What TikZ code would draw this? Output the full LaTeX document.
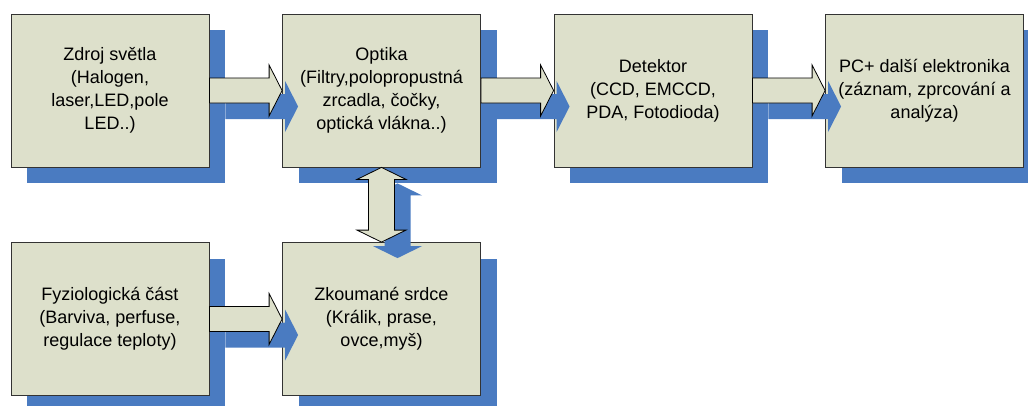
\documentclass[tikz,border=0pt]{standalone}
\usepackage{fontspec}
\setmainfont{Liberation Sans}
\usetikzlibrary{calc,shadows}
\definecolor{vypln}{RGB}{221,224,203}
\definecolor{stin}{RGB}{74,123,193}

\begin{document}
\begin{tikzpicture}[x=1pt,y=1pt,node distance=271.5pt,font=\fontsize{18}{23}\selectfont,
	stinuj/.style={drop shadow={shadow xshift=16pt,shadow yshift=-16pt,fill=stin,opacity=1}},
	blok/.style={rectangle,draw=black!80,line width=0.8pt,fill=vypln,minimum width=198pt,minimum height=153pt,inner sep=0pt,align=center,stinuj},
	sipka/.style={draw=black,line width=0.8pt,fill=vypln,line join=miter,stinuj}]
	\useasboundingbox (0,0) rectangle (1028,-405);

	\node[blok] (zdroj) at (110,-90.5) {Zdroj světla\\(Halogen,\\laser,LED,pole\\LED..)};
	\node[blok] (optika) [right of=zdroj] {Optika\\(Filtry,polopropustná\\zrcadla, čočky,\\optická vlákna..)};
	\node[blok] (detektor) [right of=optika] {Detektor\\(CCD, EMCCD,\\PDA, Fotodioda)};
	\node[blok] (pc) [right of=detektor] {PC+ další elektronika\\(záznam, zprcování a\\analýza)};
	\node[blok] (fyz) [below of=zdroj,node distance=228.5pt] {Fyziologická část\\(Barviva, perfuse,\\regulace teploty)};
	\node[blok] (srdce) [right of=fyz] {Zkoumané srdce\\(Králik, prase,\\ovce,myš)};

	\foreach \a/\b in {zdroj/optika,optika/detektor,detektor/pc,fyz/srdce}
		\path[sipka] ($(\a.east)+(0,12.5)$) -- ($(\b.west)+(-13,12.5)$) -- ++(0,13) -- (\b.west)
			-- ++(-13,-25.5) -- ++(0,13) -- ($(\a.east)+(0,-12.5)$) -- cycle;

	\path[sipka] (optika.south) -- ++(24.5,-12) -- ++(-11.5,0) -- ($(srdce.north)+(13,12)$) -- ++(11.5,0)
		-- (srdce.north) -- ++(-24.5,12) -- ++(11.5,0) -- ($(optika.south)+(-13,-12)$) -- ++(-11.5,0) -- cycle;
\end{tikzpicture}
\end{document}
